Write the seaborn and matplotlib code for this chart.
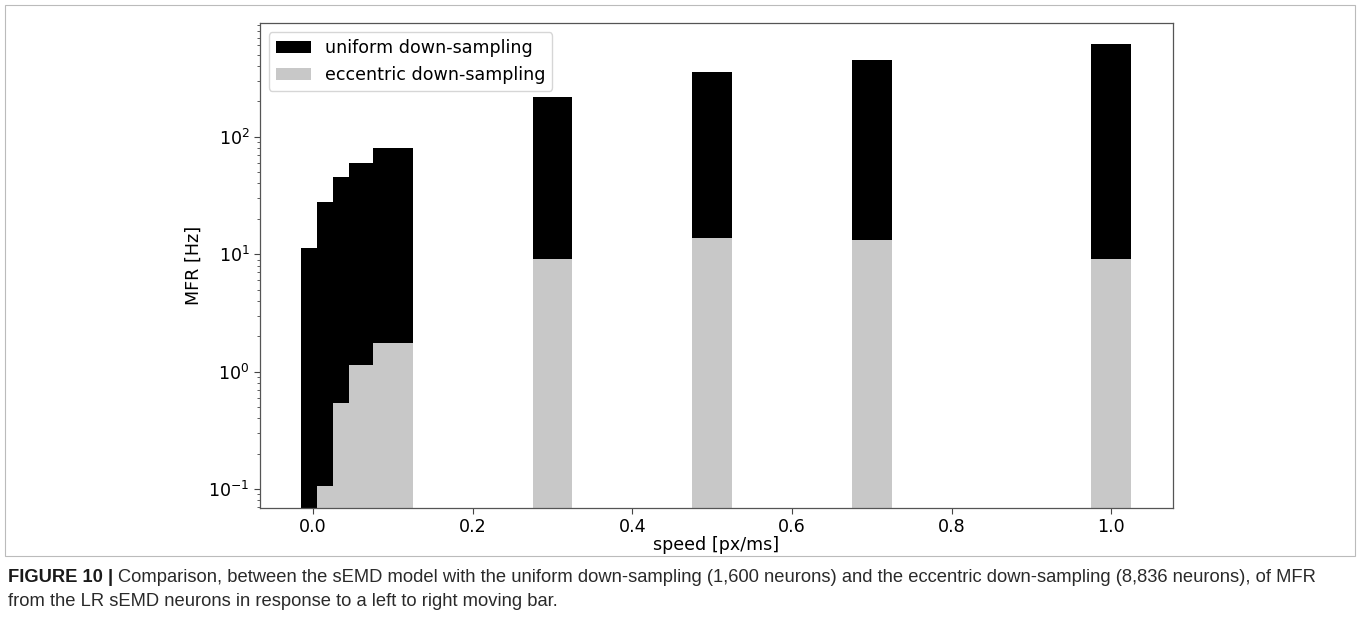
import matplotlib
matplotlib.use("Agg")
import matplotlib.pyplot as plt
from matplotlib.patches import Patch, Rectangle
import seaborn as sns
import pandas as pd

speeds = [0.01, 0.03, 0.05, 0.07, 0.1, 0.3, 0.5, 0.7, 1.0]
uniform_mfr = [11.4, 27.9, 45.1, 59.3, 80.6, 219, 353, 447, 621]
eccentric_mfr = [0.0, 0.106, 0.54, 1.13, 1.76, 9.06, 13.8, 13.3, 9.1]
series_labels = ["uniform down-sampling", "eccentric down-sampling"]
xticks = [0.0, 0.2, 0.4, 0.6, 0.8, 1.0]

sns.set_style("white")
plt.rcParams["font.family"] = ["DejaVu Sans"]
plt.rcParams["text.color"] = "black"
plt.rcParams["axes.labelcolor"] = "black"
plt.rcParams["xtick.color"] = "black"
plt.rcParams["ytick.color"] = "black"

fs = 12.6

fig = plt.figure(figsize=(13.6, 6.44), dpi=100)
ax = fig.add_axes([0.1912, 0.2112, 0.6713, 0.7526])

df = pd.DataFrame({"speed": speeds, "uniform": uniform_mfr, "eccentric": eccentric_mfr})

sns.barplot(data=df, x="speed", y="uniform", native_scale=True, width=2.5,
            color="black", saturation=1, errorbar=None, linewidth=0, ax=ax)
sns.barplot(data=df, x="speed", y="eccentric", native_scale=True, width=2.5,
            color="#c8c8c8", saturation=1, errorbar=None, linewidth=0, ax=ax)

ax.set_yscale("log")
ax.set_ylim(0.069, 925)
ax.set_xlim(-0.0665, 1.0775)
ax.set_xticks(xticks)
ax.set_xticklabels([f"{t:.1f}" for t in xticks])
ax.tick_params(axis="both", which="major", labelsize=fs, length=4, width=0.8, direction="out",
               bottom=True, left=True, color="#444444", labelcolor="black")
ax.tick_params(axis="y", which="minor", length=2, width=0.6, left=True, color="#444444")
for s in ax.spines.values():
    s.set_color("#555555")
    s.set_linewidth(0.9)
ax.set_xlabel("speed [px/ms]", fontsize=fs, labelpad=0, color="black")
ax.set_ylabel("MFR [Hz]", fontsize=fs, labelpad=4, color="black")

handles = [Patch(facecolor="black", edgecolor="none"), Patch(facecolor="#c8c8c8", edgecolor="none")]
leg = ax.legend(handles, series_labels, loc="upper left", fontsize=fs, frameon=True)
for t in leg.get_texts():
    t.set_color("black")

# figure frame
fig.patches.append(Rectangle((5 / 1360, 1 - 556 / 644), 1350 / 1360, 551 / 644,
                             transform=fig.transFigure, fill=False,
                             edgecolor="#bbbbbb", linewidth=0.8))

cap_font = ["Liberation Sans", "DejaVu Sans"]
cap_size = 13.2
bold = fig.text(8 / 1360, 1 - 578 / 644, "FIGURE 10 |", fontsize=cap_size, fontweight="bold",
                family=cap_font, va="center", ha="left", color="#1a1a1a")
fig.canvas.draw()
bb = bold.get_window_extent(renderer=fig.canvas.get_renderer())
x_next = (bb.x1 + 5) / 1360
fig.text(x_next, 1 - 578 / 644,
         "Comparison, between the sEMD model with the uniform down-sampling (1,600 neurons) and the eccentric down-sampling (8,836 neurons), of MFR",
         fontsize=cap_size, family=cap_font, va="center", ha="left", color="#2a2a2a")
fig.text(8 / 1360, 1 - 602 / 644,
         "from the LR sEMD neurons in response to a left to right moving bar.",
         fontsize=cap_size, family=cap_font, va="center", ha="left", color="#2a2a2a")

fig.savefig("out.png", dpi=100)
